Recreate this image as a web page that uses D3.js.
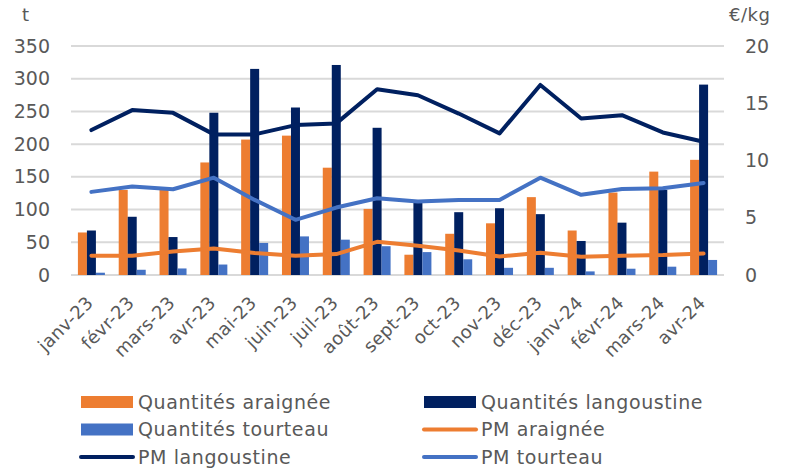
<!DOCTYPE html>
<html>
<head>
<meta charset="utf-8">
<script src="https://cdn.jsdelivr.net/npm/d3@7"></script>
<style>
  body { margin: 0; background: #fff; }
  text { font-family: "DejaVu Sans", "Open Sans", sans-serif; fill: #595959; }
</style>
</head>
<body>
<div id="chart"></div>
<script>
const months = ["janv-23","févr-23","mars-23","avr-23","mai-23","juin-23","juil-23","août-23",
                "sept-23","oct-23","nov-23","déc-23","janv-24","févr-24","mars-24","avr-24"];

// quantités (t)
const qAraignee    = [65,130,130,172,207,213,164,101,31,63,79,119,68,126,158,176];
const qLangoustine = [68,89,58,248,315,256,321,225,112,96,102,93,52,80,130,291];
const qTourteau    = [3.5,8,10,16,49,59,54,44,35,24,11,11,5.5,9.6,12.7,23];

// prix moyens (€/kg)
const pmAraignee    = [1.68,1.68,2.06,2.32,1.92,1.68,1.83,2.9,2.55,2.14,1.62,1.94,1.6,1.68,1.74,1.88];
const pmLangoustine = [12.66,14.4,14.16,12.28,12.28,13.09,13.24,16.23,15.7,14.1,12.37,16.6,13.67,13.96,12.45,11.64];
const pmTourteau    = [7.26,7.72,7.49,8.5,6.56,4.82,5.89,6.7,6.41,6.56,6.56,8.5,7.0,7.52,7.58,8.04];

const leftTicks = [0,50,100,150,200,250,300,350];
const rightTicks = [0,5,10,15,20];

const orange = "#ED7D31", navy = "#002060", blue = "#4472C4";

const width = 791, height = 470;
const plot = {left: 71, right: 724, top: 46, bottom: 275};

const svg = d3.select("#chart").append("svg")
    .attr("width", width)
    .attr("height", height);

let x = d3.scaleBand()
    .domain(months)
    .range([plot.left, plot.right]);
let yLeft = d3.scaleLinear().domain([0,350]).range([plot.bottom, plot.top]);
let yRight = d3.scaleLinear().domain([0,20]).range([plot.bottom, plot.top]);

// grid
svg.append("g").selectAll("line")
    .data(leftTicks)
    .enter().append("line")
    .attr("x1", plot.left).attr("x2", plot.right)
    .attr("y1", d => yLeft(d)).attr("y2", d => yLeft(d))
    .attr("stroke", "#d9d9d9")
    .attr("stroke-width", 2);

// axes (labels only)
let leftAxis = svg.append("g")
    .attr("transform", "translate(52,0)")
    .call(d3.axisLeft(yLeft).tickValues(leftTicks).tickSize(0).tickPadding(2));
let rightAxis = svg.append("g")
    .attr("transform", "translate(743,0)")
    .call(d3.axisRight(yRight).tickValues(rightTicks).tickSize(0).tickPadding(2));
[leftAxis, rightAxis].forEach(a => {
    a.select(".domain").remove();
    a.selectAll("text").style("font-size", "19px").attr("fill", "#595959")
        .style("font-family", "'DejaVu Sans', sans-serif");
});

svg.append("text").attr("x", 22).attr("y", 21).style("font-size", "18px").text("t");
svg.append("text").attr("x", 729).attr("y", 21).style("font-size", "18px")
    .style("letter-spacing", "0.5px").text("€/kg");

// bars
const barW = 9;
const barSeries = [
    {values: qAraignee, color: orange, off: -1.5},
    {values: qLangoustine, color: navy, off: -0.5},
    {values: qTourteau, color: blue, off: 0.5}
];
barSeries.forEach(s => {
    svg.append("g").selectAll("rect")
        .data(months)
        .enter().append("rect")
        .attr("x", (d,i) => x(d) + x.bandwidth()/2 + s.off*barW)
        .attr("y", (d,i) => yLeft(s.values[i]))
        .attr("width", barW)
        .attr("height", (d,i) => yLeft(0) - yLeft(s.values[i]))
        .attr("fill", s.color);
});

// lines
const lineSeries = [
    {values: pmAraignee, color: orange},
    {values: pmLangoustine, color: navy},
    {values: pmTourteau, color: blue}
];
lineSeries.forEach(s => {
    let gen = d3.line()
        .x((d,i) => x(months[i]) + x.bandwidth()/2)
        .y(d => yRight(d));
    svg.append("path")
        .attr("d", gen(s.values))
        .attr("fill", "none")
        .attr("stroke", s.color)
        .attr("stroke-width", 4)
        .attr("stroke-linejoin", "round")
        .attr("stroke-linecap", "round");
});

// x labels
svg.append("g").selectAll("text")
    .data(months)
    .enter().append("text")
    .attr("transform", d => "translate(" + (x(d) + x.bandwidth()/2 + 3) + ",304) rotate(-45)")
    .attr("text-anchor", "end")
    .style("font-size", "18px")
    .style("letter-spacing", "0.3px")
    .text(d => d);

// legend
const legendItems = [
    {name: "Quantités araignée", color: orange, type: "rect", col: 0, row: 0},
    {name: "Quantités langoustine", color: navy, type: "rect", col: 1, row: 0},
    {name: "Quantités tourteau", color: blue, type: "rect", col: 0, row: 1},
    {name: "PM araignée", color: orange, type: "line", col: 1, row: 1},
    {name: "PM langoustine", color: navy, type: "line", col: 0, row: 2},
    {name: "PM tourteau", color: blue, type: "line", col: 1, row: 2}
];
let legend = svg.append("g");
legendItems.forEach(it => {
    let lx = it.col === 0 ? 81 : 424;
    let ly = 402 + it.row * 27.5;
    if (it.type === "rect") {
        legend.append("rect").attr("x", lx).attr("y", ly - 6)
            .attr("width", 52).attr("height", 12).attr("fill", it.color);
    } else {
        legend.append("line").attr("x1", lx).attr("x2", lx + 52)
            .attr("y1", ly).attr("y2", ly)
            .attr("stroke", it.color).attr("stroke-width", 4)
            .attr("stroke-linecap", "round");
    }
    legend.append("text").attr("x", lx + 57).attr("y", ly)
        .attr("dy", "0.35em")
        .style("font-size", "19px")
        .style("letter-spacing", "0.6px")
        .text(it.name);
});
</script>
</body>
</html>
